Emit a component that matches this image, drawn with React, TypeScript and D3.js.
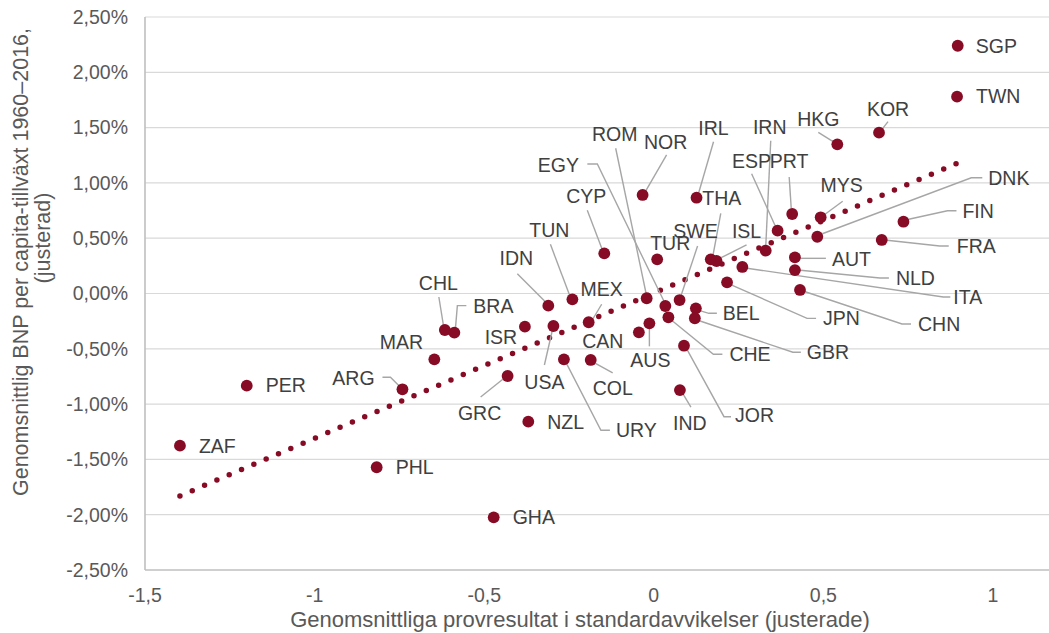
import React from "react";
import * as d3 from "d3";

const countries = ["SGP","TWN","KOR","HKG","MYS","PRT","ESP","IRN","DNK","FIN","FRA","AUT","NLD","ITA","JPN","CHN","BEL","GBR","CHE","EGY","SWE","ROM","TUR","THA","ISL","IRL","NOR","CYP","TUN","IDN","MEX","CAN","CHL","BRA","ISR","USA","AUS","COL","URY","GRC","NZL","MAR","ARG","PER","ZAF","PHL","GHA","IND","JOR"];
const testScores = [0.896,0.894,0.664,0.541,0.492,0.408,0.365,0.330,0.482,0.736,0.672,0.416,0.416,0.261,0.216,0.431,0.124,0.121,0.043,0.034,0.076,-0.021,0.010,0.168,0.185,0.126,-0.033,-0.146,-0.240,-0.311,-0.192,-0.044,-0.616,-0.588,-0.380,-0.296,-0.013,-0.186,-0.265,-0.431,-0.370,-0.647,-0.741,-1.200,-1.397,-0.817,-0.472,0.077,0.089];
const growth = [2.24,1.78,1.454,1.349,0.689,0.719,0.568,0.387,0.513,0.649,0.484,0.327,0.212,0.240,0.101,0.032,-0.134,-0.224,-0.215,-0.113,-0.059,-0.043,0.309,0.309,0.294,0.866,0.891,0.363,-0.053,-0.110,-0.260,-0.351,-0.330,-0.354,-0.300,-0.294,-0.270,-0.601,-0.595,-0.746,-1.159,-0.595,-0.866,-0.833,-1.376,-1.571,-2.024,-0.873,-0.472];

const trendX = [-1.397, 0.896];
const trendY = [-1.83, 1.18];

const xTicks = [-1.5, -1, -0.5, 0, 0.5, 1];
const yTicks = [-2.5, -2, -1.5, -1, -0.5, 0, 0.5, 1, 1.5, 2, 2.5];

// label layout: [anchor, dx, dy, leader offsets]
type Lay = [string, number, number, number[][]];
const labelLayout: Record<string, Lay> = {
  SGP: ["start", 18, 0, []],
  TWN: ["start", 19, 0, []],
  KOR: ["middle", 9, -24, [[9, -11], [2, -2]]],
  HKG: ["middle", -19, -25, [[-19, -12], [-3, -2]]],
  MYS: ["middle", 21, -32, [[22, -16], [3, -2]]],
  PRT: ["middle", -3, -53, [[-3, -37], [-1, -6]]],
  ESP: ["middle", -26, -70, [[-26, -57], [-2, -4]]],
  IRN: ["middle", 4, -124, [[5, -110], [0, -4]]],
  DNK: ["start", 171, -59, [[5, -3], [154, -59], [165, -59]]],
  FIN: ["start", 59, -11, [[3, -2], [44, -11], [53, -11]]],
  FRA: ["start", 75, 6, [[3, 0], [58, 6], [67, 6]]],
  AUT: ["start", 37, 2, [[3, 1], [31, 1]]],
  NLD: ["start", 101, 8, [[3, 0], [85, 8], [94, 8]]],
  ITA: ["start", 211, 30, [[3, 1], [201, 30], [208, 30]]],
  JPN: ["start", 96, 36, [[3, 2], [80, 36], [89, 36]]],
  CHN: ["start", 118, 34, [[3, 1], [102, 34], [111, 34]]],
  BEL: ["start", 27, 5, [[3, 2], [13, 5], [21, 5]]],
  GBR: ["start", 112, 34, [[3, 2], [98, 34], [106, 34]]],
  CHE: ["start", 61, 37, [[2, 2], [45, 37], [54, 37]]],
  EGY: ["middle", -107, -141, [[-78, -142], [-68, -142], [0, -2]]],
  SWE: ["middle", 16, -69, [[18, -54], [1, -3]]],
  ROM: ["middle", -32, -164, [[-31, -150], [0, -2]]],
  TUR: ["middle", 13, -16, []],
  THA: ["middle", 11, -61, [[10, -46], [2, -3]]],
  ISL: ["middle", 30, -30, [[30, -16], [0, -1]]],
  IRL: ["middle", 17, -70, [[17, -56], [1, -1]]],
  NOR: ["middle", 23, -53, [[24, -40], [2, -2]]],
  CYP: ["middle", -18, -57, [[-17, -43], [-1, -1]]],
  TUN: ["middle", -23, -69, [[-22, -55], [-2, -2]]],
  IDN: ["middle", -32, -47, [[-31, -32], [-2, -3]]],
  MEX: ["middle", 13, -33, [[13, -18], [4, -3]]],
  CAN: ["middle", -36, 9, []],
  CHL: ["middle", -6.5, -47, [[-6, -33], [-1, -2]]],
  BRA: ["start", 19, -26, [[12, -27], [3, -27], [1, -3]]],
  ISR: ["middle", -24, 10, []],
  USA: ["middle", -9, 56, [[-9, 39], [-1, 4]]],
  AUS: ["middle", 1, 37, [[0, 4], [0, 23]]],
  COL: ["middle", 22, 28, [[2, 2], [22, 13]]],
  URY: ["start", 52, 71, [[2, 3], [37, 71], [46, 71]]],
  GRC: ["middle", -28, 37, [[-27, 21], [-2, 1]]],
  NZL: ["start", 19, 0, []],
  MAR: ["middle", -33, -17, []],
  ARG: ["middle", -49, -11, [[-20, -12], [-12, -12], [-1, -1]]],
  PER: ["start", 19, 0, []],
  ZAF: ["start", 19, 0, []],
  PHL: ["start", 19, 0, []],
  GHA: ["start", 19, 0, []],
  IND: ["middle", 10, 33, [[2, 2], [11, 17]]],
  JOR: ["start", 51, 69, [[2, 2], [40, 71], [47, 71]]],
};

const W = 1049;
const H = 633;
const RED = "#870b25";
const FONT = "'Liberation Sans', Arial, sans-serif";

export default function App() {
  const x = d3.scaleLinear().domain([-1.5, 1]).range([145, 993]);
  const y = d3.scaleLinear().domain([-2.5, 2.5]).range([570, 17]);
  const fmtY = (v: number) => d3.format(".2f")(v).replace("\u2212", "-").replace(".", ",") + "%";
  const fmtX = (v: number) => String(v).replace(".", ",");
  const line = d3.line<number>().x((_, i) => x(trendX[i])).y((_, i) => y(trendY[i]));

  return (
    <svg width={W} height={H} style={{ position: "absolute", left: 0, top: 0, fontFamily: FONT }}>
      <rect width={W} height={H} fill="#fff" />
      {yTicks.filter((t) => t > -2.5).map((t) => (
        <line key={t} x1={145} x2={W} y1={y(t)} y2={y(t)} stroke="#d9d9d9" strokeWidth={1.2} />
      ))}
      <line x1={145} x2={W} y1={y(-2.5)} y2={y(-2.5)} stroke="#bfbfbf" strokeWidth={1.6} />
      <line x1={145} x2={145} y1={y(2.5)} y2={y(-2.5)} stroke="#bfbfbf" strokeWidth={1.6} />
      {yTicks.map((t) => (
        <text key={t} x={128} y={y(t)} dy="0.35em" textAnchor="end" fontSize={19.5} fill="#595959">{fmtY(t)}</text>
      ))}
      {xTicks.map((t) => (
        <text key={t} x={x(t)} y={595} dy="0.35em" textAnchor="middle" fontSize={19.5} fill="#595959">{fmtX(t)}</text>
      ))}
      <text x={580} y={619} dy="0.35em" textAnchor="middle" fontSize={22} fill="#595959">Genomsnittliga provresultat i standardavvikelser (justerade)</text>
      <text transform={`translate(20,262) rotate(-90)`} dy="0.35em" textAnchor="middle" fontSize={21.5} fill="#595959">Genomsnittlig BNP per capita-tillväxt 1960–2016,</text>
      <text transform={`translate(42,238) rotate(-90)`} dy="0.35em" textAnchor="middle" fontSize={21.5} fill="#595959">(justerad)</text>
      <path d={line([0, 1]) || ""} fill="none" stroke={RED} strokeWidth={5.5} strokeLinecap="round" strokeDasharray="0 13.4" />
      {countries.map((c, i) => {
        const px = x(testScores[i]);
        const py = y(growth[i]);
        const lay = labelLayout[c];
        if (!lay || lay[3].length === 0) return null;
        const pts = lay[3].map(([dx, dy]) => [px + dx, py + dy] as [number, number]);
        return <path key={c + "l"} d={d3.line()(pts) || ""} fill="none" stroke="#a6a6a6" strokeWidth={1.4} />;
      })}
      {countries.map((c, i) => (
        <circle key={c} cx={x(testScores[i])} cy={y(growth[i])} r={5.9} fill={RED} />
      ))}
      {countries.map((c, i) => {
        const lay = labelLayout[c];
        const px = x(testScores[i]);
        const py = y(growth[i]);
        return (
          <text key={c + "t"} x={px + lay[1]} y={py + lay[2]} dy="0.35em" textAnchor={lay[0] as any} fontSize={19.5} fill="#404040">{c}</text>
        );
      })}
    </svg>
  );
}
